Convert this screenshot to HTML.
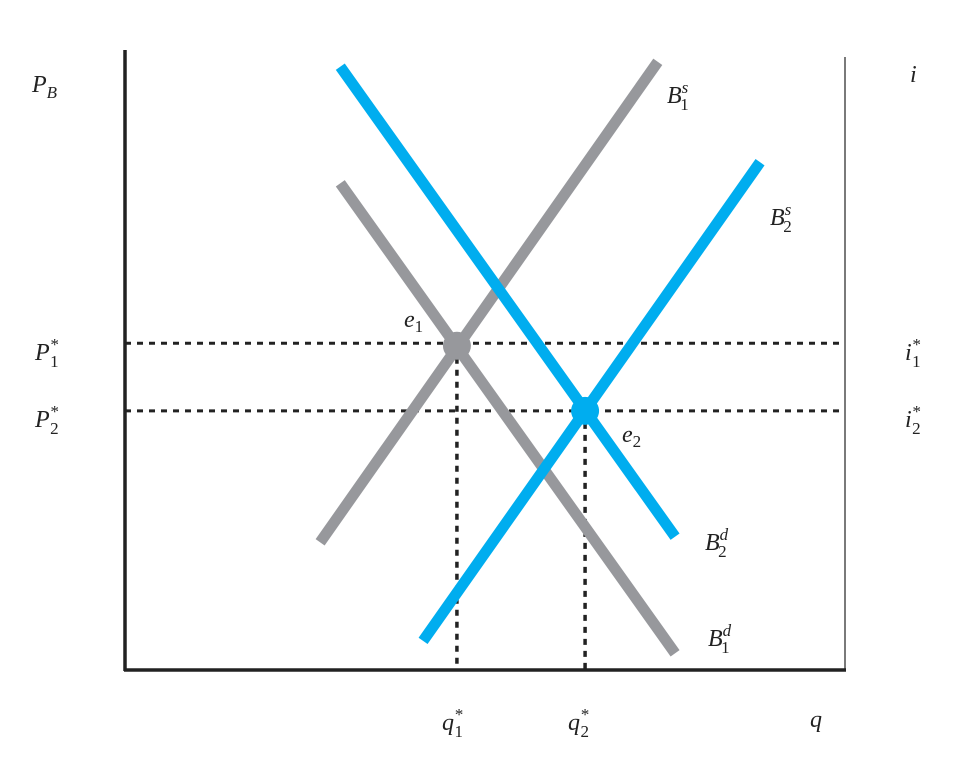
<!DOCTYPE html>
<html><head><meta charset="utf-8">
<style>
html,body{margin:0;padding:0;background:#fff;}
svg{display:block;}
text{font-family:"Liberation Serif",serif;font-style:italic;font-size:24px;fill:#222;}
.sub{font-size:17px;}
.num{font-size:17px;font-style:normal;}
</style></head>
<body>
<svg id="chart" width="968" height="762" viewBox="0 0 968 762">
<g id="axes">
<line x1="125" y1="50" x2="125" y2="671" stroke="#222" stroke-width="3.5"/>
<line x1="124" y1="670" x2="846" y2="670" stroke="#222" stroke-width="3.5"/>
<line x1="845" y1="57" x2="845" y2="670" stroke="#222" stroke-width="1.2"/>
</g>
<g id="guides"></g>
<g id="lines"></g>
<g id="points"></g>
<g id="labels">
<text x="32" y="92">P<tspan class="sub" dy="6">B</tspan></text>
<text x="35" y="360">P<tspan class="sub" dy="-10">*</tspan><tspan class="num" dx="-8" dy="17">1</tspan></text>
<text x="35" y="427">P<tspan class="sub" dy="-10">*</tspan><tspan class="num" dx="-8" dy="17">2</tspan></text>
<text x="910" y="82">i</text>
<text x="905" y="360">i<tspan class="sub" dy="-10">*</tspan><tspan class="num" dx="-8" dy="17">1</tspan></text>
<text x="905" y="427">i<tspan class="sub" dy="-10">*</tspan><tspan class="num" dx="-8" dy="17">2</tspan></text>
<text x="442" y="730">q<tspan class="sub" dy="-10">*</tspan><tspan class="num" dx="-8" dy="17">1</tspan></text>
<text x="568" y="730">q<tspan class="sub" dy="-10">*</tspan><tspan class="num" dx="-8" dy="17">2</tspan></text>
<text x="810" y="727">q</text>
<text x="667" y="103">B<tspan class="sub" dy="-10">s</tspan><tspan class="num" dx="-8" dy="17">1</tspan></text>
<text x="770" y="225">B<tspan class="sub" dy="-10">s</tspan><tspan class="num" dx="-8" dy="17">2</tspan></text>
<text x="705" y="550">B<tspan class="sub" dy="-10">d</tspan><tspan class="num" dx="-10" dy="17">2</tspan></text>
<text x="708" y="646">B<tspan class="sub" dy="-10">d</tspan><tspan class="num" dx="-10" dy="17">1</tspan></text>
<text x="404" y="327">e<tspan class="num" dy="5">1</tspan></text>
<text x="622" y="442">e<tspan class="num" dy="5">2</tspan></text>
</g>
</svg>
<script>
// data coordinates: x in [0,10], y in [0,10]
const lineNames = ['B1s','B1d','B2d','B2s'];
const lineX1 = [2.71, 2.99, 2.99, 4.14];
const lineY1 = [2.06, 7.85, 9.73, 0.47];
const lineX2 = [7.40, 7.64, 7.64, 8.82];
const lineY2 = [9.81, 0.27, 2.15, 8.19];
const lineColors = ['#97989c','#97989c','#00adef','#00adef'];
const eqNames = ['e1','e2'];
const eqX = [4.61, 6.39];
const eqY = [5.23, 4.18];
const eqColors = ['#97989c','#00adef'];
const priceLevels = [5.27, 4.18];
const qtyLevels = [4.61, 6.39];

const sx = v => 125 + v * 72;
const sy = v => 670 - v * 62;
const NS = 'http://www.w3.org/2000/svg';

const guides = document.getElementById('guides');
priceLevels.forEach((p, i) => {
  const l = document.createElementNS(NS, 'line');
  l.setAttribute('x1', 125); l.setAttribute('x2', 845);
  l.setAttribute('y1', sy(p)); l.setAttribute('y2', sy(p));
  l.setAttribute('stroke', '#222'); l.setAttribute('stroke-width', 3);
  l.setAttribute('stroke-dasharray', '6 6');
  
  
  guides.appendChild(l);
});
qtyLevels.forEach((q, i) => {
  const l = document.createElementNS(NS, 'line');
  l.setAttribute('x1', sx(q)); l.setAttribute('x2', sx(q));
  l.setAttribute('y1', sy(eqY[i])); l.setAttribute('y2', 670);
  l.setAttribute('stroke', '#222'); l.setAttribute('stroke-width', 3.5);
  l.setAttribute('stroke-dasharray', '6 6');
  
  
  guides.appendChild(l);
});

const lines = document.getElementById('lines');
lineNames.forEach((n, i) => {
  const l = document.createElementNS(NS, 'line');
  l.setAttribute('x1', sx(lineX1[i])); l.setAttribute('y1', sy(lineY1[i]));
  l.setAttribute('x2', sx(lineX2[i])); l.setAttribute('y2', sy(lineY2[i]));
  l.setAttribute('stroke', lineColors[i]); l.setAttribute('stroke-width', 11);
  
  
  lines.appendChild(l);
});

const pts = document.getElementById('points');
eqNames.forEach((n, i) => {
  const c = document.createElementNS(NS, 'circle');
  c.setAttribute('cx', sx(eqX[i])); c.setAttribute('cy', sy(eqY[i]));
  c.setAttribute('r', 14); c.setAttribute('fill', eqColors[i]);
  
  
  pts.appendChild(c);
});
</script>
</body></html>
